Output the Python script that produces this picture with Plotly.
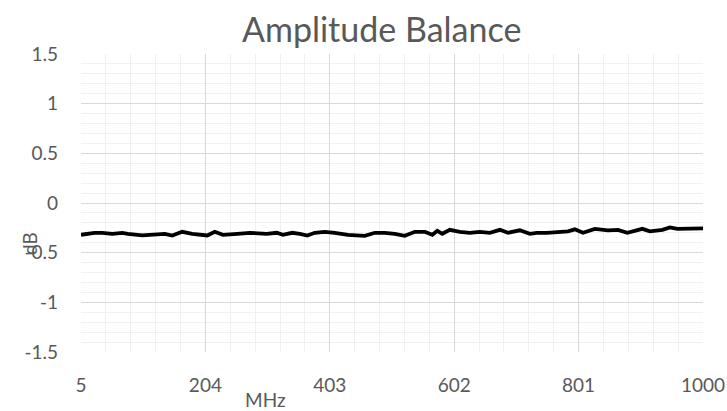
import plotly.graph_objects as go

# Data
freq_mhz = [5, 27, 39, 55, 71, 80, 103, 123, 139, 151, 167, 183, 195, 207, 219, 232,
            255, 275, 302, 318, 328, 343, 355, 367, 379, 395, 411, 432, 459, 475, 491,
            507, 523, 539, 555, 567, 575, 583, 595, 611, 627, 643, 659, 675, 688, 707,
            723, 734, 750, 767, 784, 795, 808, 827, 848, 864, 879, 903, 915, 935, 947,
            959, 976, 1000]
balance_db = [-0.32, -0.30, -0.30, -0.31, -0.30, -0.31, -0.325, -0.32, -0.31, -0.327,
              -0.29, -0.31, -0.32, -0.327, -0.29, -0.32, -0.31, -0.30, -0.31, -0.30,
              -0.32, -0.30, -0.31, -0.327, -0.30, -0.29, -0.30, -0.32, -0.33, -0.30,
              -0.30, -0.31, -0.33, -0.29, -0.29, -0.32, -0.28, -0.31, -0.27, -0.29,
              -0.30, -0.29, -0.30, -0.27, -0.30, -0.275, -0.31, -0.30, -0.30, -0.295,
              -0.285, -0.265, -0.30, -0.26, -0.275, -0.27, -0.30, -0.26, -0.285, -0.27,
              -0.245, -0.26, -0.26, -0.255]
x_tick_vals = [5, 204, 403, 602, 801, 1000]
x_tick_text = ["5", "204", "403", "602", "801", "1000"]
y_tick_vals = [-1.5, -1, -0.5, 0, 0.5, 1, 1.5]
y_tick_text = ["-1.5", "-1", "-0.5", "0", "0.5", "1", "1.5"]

FONT = "Lato, 'Open Sans', sans-serif"
GREY = "#595959"

fig = go.Figure()
fig.add_trace(go.Scatter(x=freq_mhz, y=balance_db, mode="lines",
                         line=dict(color="#000000", width=3.8), showlegend=False))

fig.update_layout(
    width=727, height=411,
    margin=dict(l=81, r=24, t=54, b=59),
    paper_bgcolor="white", plot_bgcolor="white",
    font=dict(family=FONT, color=GREY, size=19),
    title=dict(text="Amplitude Balance", x=0.525, xanchor="center", y=0.927, yanchor="middle",
               font=dict(family=FONT, size=34, color=GREY)),
)
fig.update_xaxes(range=[5, 1000], tickmode="array", tickvals=x_tick_vals, ticktext=x_tick_text,
                 automargin=False,
                 showgrid=True, gridcolor="#d9d9d9", gridwidth=1, zeroline=False,
                 showline=False, ticks="", ticklabelstandoff=20,
                 tickfont=dict(family=FONT, size=19, color=GREY),
                 minor=dict(tick0=5, dtick=39.8, showgrid=True, gridcolor="#f0f0f0", gridwidth=1))
fig.update_yaxes(range=[-1.5, 1.5], tickmode="array", tickvals=y_tick_vals, ticktext=y_tick_text,
                 automargin=False,
                 showgrid=True, gridcolor="#d9d9d9", gridwidth=1, zeroline=False,
                 showline=False, ticks="", ticklabelstandoff=22,
                 tickfont=dict(family=FONT, size=19, color=GREY),
                 minor=dict(dtick=0.1, showgrid=True, gridcolor="#f0f0f0", gridwidth=1))

fig.add_annotation(text="dB", xref="paper", yref="paper", x=-0.082, y=0.366,
                   textangle=-90, showarrow=False, xanchor="center", yanchor="middle",
                   font=dict(family=FONT, size=19, color=GREY))
fig.add_annotation(text="MHz", xref="paper", yref="paper", x=0.296, y=-0.161,
                   showarrow=False, xanchor="center", yanchor="middle",
                   font=dict(family=FONT, size=19, color=GREY))

fig.write_html("out.html", config={"displayModeBar": False},
               post_script="document.body.style.margin='0';document.body.style.overflow='hidden';")
